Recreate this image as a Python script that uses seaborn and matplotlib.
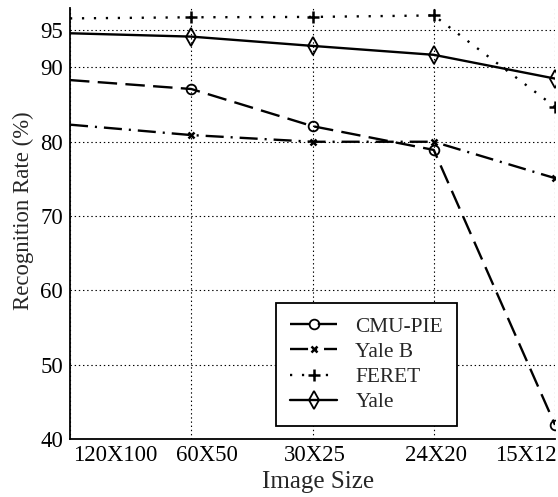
import numpy as np
import pandas as pd
import matplotlib
matplotlib.use('Agg')
import matplotlib.pyplot as plt
import matplotlib.transforms as mtransforms
import seaborn as sns

# values
sizes = ['120X100', '60X50', '30X25', '24X20', '15X12']
cmu_pie = [88.3, 87.1, 82.1, 78.9, 41.9]
yale_b = [82.3, 80.9, 80.0, 80.0, 75.1]
feret = [96.6, 96.75, 96.8, 97.0, 84.7]
yale = [94.6, 94.15, 92.9, 91.7, 88.5]
yticks = [40, 50, 60, 70, 80, 90, 95]

sns.set_style('white')
plt.rcParams['font.family'] = ['Liberation Serif', 'DejaVu Serif']
plt.rcParams['lines.scale_dashes'] = False

fig = plt.figure(figsize=(5.58, 4.97), dpi=100)
ax = fig.add_axes([70 / 558, 1 - 439 / 497, 485 / 558, 431 / 497])

series = [
    ('CMU-PIE', cmu_pie, (0, (14, 6)), 'o', 7, 1.3),
    ('Yale B', yale_b, (0, (13, 5, 1.5, 5)), 'x', 5, 1.8),
    ('FERET', feret, (0, (1.6, 7)), '+', 9, 1.8),
    ('Yale', yale, '-', 'd', 9, 1.3),
]

for name, vals, ls, mk, ms, mew in series:
    df = pd.DataFrame({'size': sizes, 'rate': vals})
    sns.lineplot(data=df, x='size', y='rate', ax=ax, color='black',
                 linestyle=ls, linewidth=1.7, marker=mk, markersize=ms,
                 markeredgewidth=mew, markeredgecolor='black',
                 markerfacecolor='none', markevery=slice(1, None),
                 label=name, sort=False)

ax.set_xlim(0, len(sizes) - 1)
ax.set_ylim(40, 98)
ax.set_yticks(yticks)
ax.set_xticks(np.arange(len(sizes)))
ax.set_xticklabels(sizes)

ax.grid(True, color='black', linestyle=(0, (1, 2)), linewidth=0.8)
ax.set_axisbelow(True)
for s in ['top', 'right']:
    ax.spines[s].set_visible(False)
for s in ['left', 'bottom']:
    ax.spines[s].set_color('black')
    ax.spines[s].set_linewidth(1.3)

ax.tick_params(axis='both', direction='in', length=5, width=1, colors='black',
               labelsize=16.4)
ax.tick_params(axis='x', pad=4)
ax.tick_params(axis='y', pad=5)

# shift the x tick labels the way they sit in the original
shifts = [45, 16, 2, 2, -29]
for lab, dx in zip(ax.get_xticklabels(), shifts):
    lab.set_transform(lab.get_transform() +
                      mtransforms.ScaledTranslation(dx / 100, 0, fig.dpi_scale_trans))

ax.set_xlabel('Image Size', fontsize=18)
ax.set_ylabel('Recognition Rate (%)', fontsize=16.4)
ax.xaxis.set_label_coords(0.511, -0.074)
ax.yaxis.set_label_coords(-0.074, 0.529)

leg = ax.legend(loc='lower left', bbox_to_anchor=(0.425, 0.03), fontsize=15.4,
                frameon=True, fancybox=False, edgecolor='black',
                handlelength=2.2, handletextpad=0.85, labelspacing=0.24,
                borderpad=0.65, borderaxespad=0)
leg.get_frame().set_linewidth(1.3)
leg.get_frame().set_alpha(1)

fig.savefig('out.png', dpi=100)
